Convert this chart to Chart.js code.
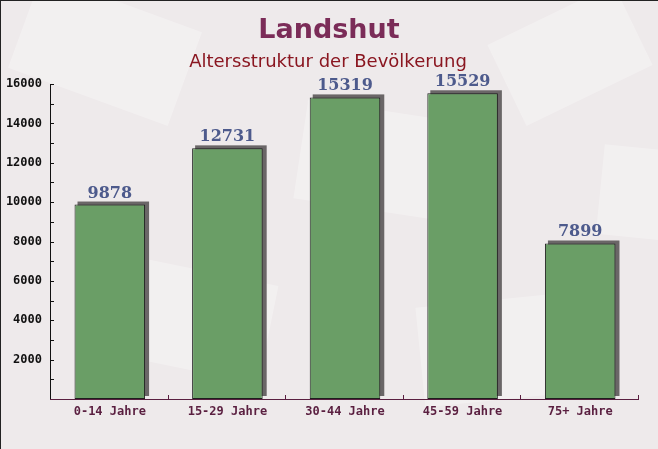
<!DOCTYPE html>
<html>
<head>
<meta charset="utf-8">
<script src="https://cdn.jsdelivr.net/npm/chart.js@4"></script>
<style>
  html, body { margin: 0; padding: 0; background: #efebec; }
  #wrap { width: 658px; height: 449px; }
</style>
</head>
<body>
<div id="wrap"><canvas id="ageChart" width="658" height="449"></canvas></div>
<script>
const titleText = 'Landshut';
const subtitleText = 'Altersstruktur der Bevölkerung';
const categories = ['0-14 Jahre', '15-29 Jahre', '30-44 Jahre', '45-59 Jahre', '75+ Jahre'];
const population = [9878, 12731, 15319, 15529, 7899];
const yTicks = [2000, 4000, 6000, 8000, 10000, 12000, 14000, 16000];

// background, title and border
const backdrop = {
    id: 'backdrop',
    beforeDraw(chart) {
        const ctx = chart.ctx;
        ctx.save();
        ctx.fillStyle = '#eeeaeb';
        ctx.fillRect(0, 0, chart.width, chart.height);
        // faint envelope shapes like in the original picture
        ctx.fillStyle = 'rgba(255,255,255,0.28)';
        const shapes = [[20, 0, 170, 100, 0.35], [300, 110, 150, 100, 0.15], [500, 10, 140, 90, -0.45], [120, 270, 150, 100, 0.2], [420, 300, 150, 100, -0.1], [600, 150, 120, 90, 0.1]];
        shapes.forEach(s => {
            ctx.save();
            ctx.translate(s[0] + s[2] / 2, s[1] + s[3] / 2);
            ctx.rotate(s[4]);
            ctx.fillRect(-s[2] / 2, -s[3] / 2, s[2], s[3]);
            ctx.restore();
        });
        ctx.fillStyle = '#222';
        ctx.fillRect(0, 0, chart.width, 1);
        ctx.fillRect(0, 0, 1, chart.height);

        ctx.textAlign = 'center';
        ctx.textBaseline = 'middle';
        ctx.fillStyle = '#7b2c58';
        ctx.font = 'bold 27px "DejaVu Sans"';
        ctx.fillText(titleText, 329, 31);
        ctx.fillStyle = '#8a1620';
        ctx.font = '18px "DejaVu Sans"';
        ctx.fillText(subtitleText, 328, 62);
        ctx.restore();
    }
};

// 3d shadow behind each bar, value labels and inner ticks
const barShadow = {
    id: 'barShadow',
    beforeDatasetsDraw(chart) {
        const ctx = chart.ctx;
        const meta = chart.getDatasetMeta(0);
        ctx.save();
        ctx.fillStyle = '#6a6667';
        meta.data.forEach(bar => {
            const left = bar.x - bar.width / 2;
            const h = bar.base - bar.y;
            ctx.fillRect(left + 3, bar.y - 3, bar.width + 1, h);
        });
        ctx.restore();
    },
    afterDatasetsDraw(chart) {
        const ctx = chart.ctx;
        const meta = chart.getDatasetMeta(0);
        const area = chart.chartArea;
        const ys = chart.scales.y;
        ctx.save();
        ctx.fillStyle = '#4d5a8c';
        ctx.font = 'bold 16px "DejaVu Serif"';
        ctx.textAlign = 'center';
        ctx.textBaseline = 'alphabetic';
        meta.data.forEach((bar, i) => {
            ctx.fillText(String(population[i]), bar.x, bar.y - 7);
        });
        ctx.fillStyle = '#111';
        ctx.fillRect(area.left - 1, area.top, 1, area.bottom - area.top + 1);
        ctx.fillStyle = '#5a1f40';
        ctx.fillRect(area.left - 1, area.bottom, area.right - area.left + 1, 1);
        ctx.fillStyle = '#111';
        for (let v = 1000; v <= 16000; v += 1000) {
            const y = Math.round(ys.getPixelForValue(v));
            ctx.fillRect(area.left, y, 3, 1);
        }
        ctx.fillStyle = '#5a1f40';
        const step = (area.right - area.left) / categories.length;
        for (let i = 1; i <= categories.length; i++) {
            const x = Math.round(area.left + step * i) - 1;
            ctx.fillRect(x, area.bottom - 4, 1, 4);
        }
        ctx.restore();
    }
};

new Chart(document.getElementById('ageChart'), {
    type: 'bar',
    data: {
        labels: categories,
        datasets: [{
            data: population,
            backgroundColor: '#6a9e66',
            borderColor: '#1e1e1e',
            borderWidth: 1,
            borderSkipped: false,
            categoryPercentage: 0.6,
            barPercentage: 1.0
        }]
    },
    options: {
        responsive: false,
        animation: false,
        devicePixelRatio: 1,
        layout: { padding: { left: 0, right: 19, top: 84, bottom: 0 } },
        plugins: {
            legend: { display: false },
            tooltip: { enabled: false }
        },
        scales: {
            x: {
                grid: { display: false, drawTicks: false },
                border: { display: false },
                ticks: {
                    color: '#5a1f40',
                    font: { family: '"DejaVu Sans Mono"', size: 12, weight: 'bold' },
                    padding: 6,
                    maxRotation: 0
                },
                afterFit(scale) { scale.height = 50; }
            },
            y: {
                min: 0,
                max: 16000,
                afterBuildTicks(scale) {
                    scale.ticks = yTicks.map(v => ({ value: v }));
                },
                grid: { display: false, drawTicks: false },
                border: { display: false },
                ticks: {
                    color: '#111',
                    font: { family: '"DejaVu Sans Mono"', size: 12, weight: 'bold' },
                    padding: 9,
                    callback: v => String(v)
                },
                afterFit(scale) { scale.width = 51; }
            }
        }
    },
    plugins: [backdrop, barShadow]
});
</script>
</body>
</html>
